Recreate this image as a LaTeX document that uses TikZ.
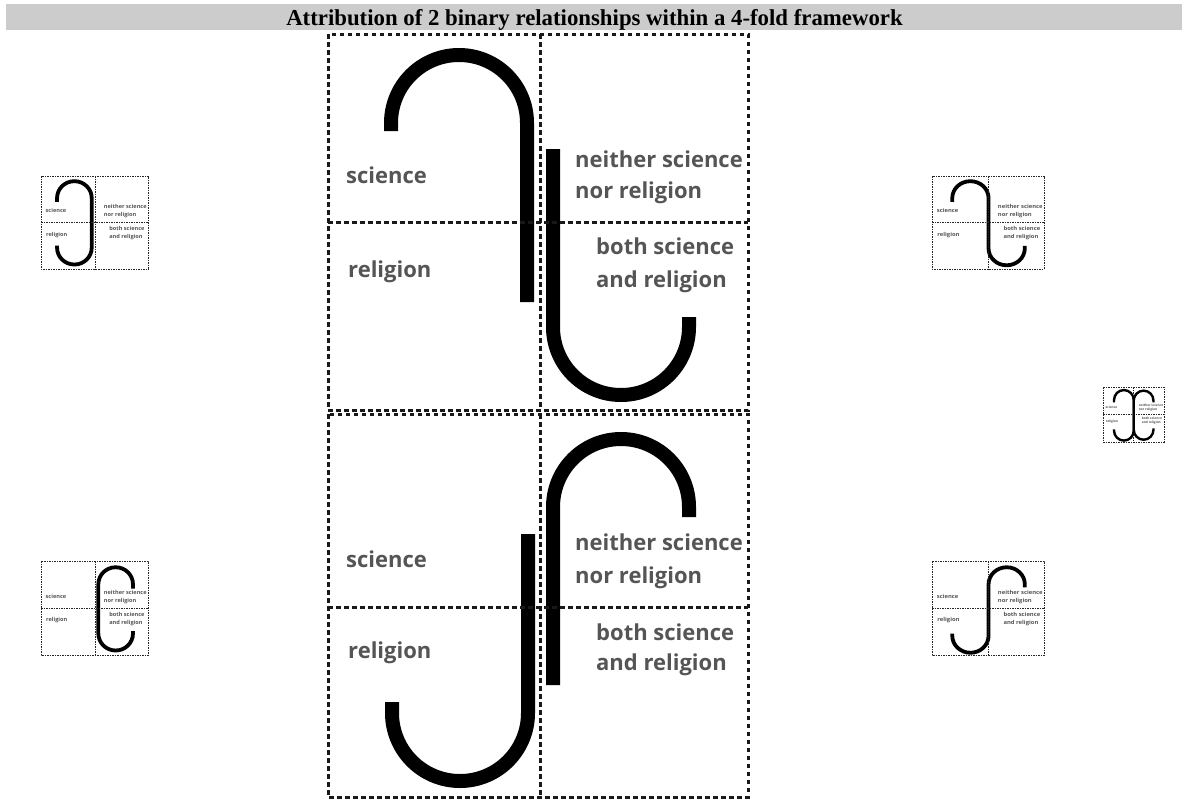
\documentclass[tikz,border=0pt]{standalone}
\usepackage{fontspec}
\setmainfont{Liberation Serif}
\newfontfamily\labelfont{Open Sans}
\definecolor{titlegray}{HTML}{CCCCCC}
\definecolor{labelgray}{HTML}{555555}
\tikzset{
 bigframe/.style={line width=3pt, dash pattern=on 4.5pt off 3.5pt, black!90},
 smallframe/.style={line width=0.8pt, dash pattern=on 1.5pt off 1pt, black!85},
 bigstroke/.style={line width=14pt, line cap=butt},
 smallstroke/.style={line width=3.8pt, line cap=butt},
 lbl/.style={anchor=base west, inner sep=0pt, font=\labelfont\bfseries\fontsize{22}{22}\selectfont, text=labelgray},
}
\newcommand\framegrid[1]{%
  \draw[#1] (0,0) rectangle (420,376);
  \draw[#1] (212,0) -- (212,376);
  \draw[#1] (0,188) -- (420,188);
}
\newcommand\framelabels[1]{%
  \node[lbl] (#1sci) at (18,149) {science};
  \node[lbl] (#1rel) at (20,243) {religion};
  \node[lbl] (#1nei) at (247,133) {neither science};
  \node[lbl] (#1nor) at (247,164) {nor religion};
  \node[lbl] (#1both) at (268,220) {both science};
  \node[lbl] (#1and) at (268,253) {and religion};
}
\newcommand\thumb[7]{%
 \begin{scope}[shift={(#2,#3)}, xscale=#4, yscale=#5, transform shape]
   \draw[smallstroke, line width=#6] #7;
   \framegrid{smallframe}
   \framelabels{#1}
 \end{scope}}
\begin{document}
\begin{tikzpicture}[x=1pt,y=-1pt]
\useasboundingbox (0,0) rectangle (1188,801);
% title
\fill[titlegray] (6,4) rectangle (1182,30);
\node[font=\bfseries\fontsize{22.8}{23}\selectfont, anchor=base, inner sep=0pt] (title) at (594.5,25) {Attribution of 2 binary relationships within a 4-fold framework};

% big upper frame
\begin{scope}[shift={(328,34)}]
  \draw[bigstroke] (63,97) -- (63,89) arc[start angle=180,end angle=360,radius=68] -- (199,268);
  \draw[bigstroke] (225,115) -- (225,293) arc[start angle=180,end angle=0,radius=68] -- (361,283);
  \framegrid{bigframe}
  \framelabels{up}
\end{scope}

% big lower frame
\begin{scope}[shift={(328,414)}]
  \draw[bigstroke] (225,271) -- (225,93) arc[start angle=180,end angle=360,radius=68] -- (361,103);
  \draw[bigstroke] (64,288) -- (64,299) arc[start angle=180,end angle=0,radius=68] -- (200,120);
  \draw[bigframe] (0,0) rectangle (420,383);
  \draw[bigframe] (212,0) -- (212,383);
  \draw[bigframe] (0,193) -- (420,193);
  \node[lbl] (losci) at (18,153) {science};
  \node[lbl] (lorel) at (20,244) {religion};
  \node[lbl] (lonei) at (247,136) {neither science};
  \node[lbl] (lonor) at (247,169) {nor religion};
  \node[lbl] (loboth) at (268,226) {both science};
  \node[lbl] (loand) at (268,256) {and religion};
\end{scope}

% thumbnails
\thumb{ta}{41}{176}{0.2548}{0.2473}{3.8pt}{(63,105) -- (63,89) arc[start angle=180,end angle=360,radius=68] -- (199,290) arc[start angle=0,end angle=180,radius=68] -- (63,282)}
\thumb{tb}{41}{561}{0.2548}{0.2500}{3.8pt}{(361,110) -- (361,93) arc[start angle=0,end angle=-180,radius=68] -- (225,290) arc[start angle=180,end angle=0,radius=68] -- (361,280)}
\thumb{tc}{932}{176}{0.2667}{0.2473}{3.8pt}{(76,105) -- (76,89) arc[start angle=180,end angle=360,radius=68] -- (212,293) arc[start angle=180,end angle=0,radius=68] -- (348,283)}
\thumb{td}{932}{561}{0.2667}{0.2500}{3.8pt}{(348,105) -- (348,93) arc[start angle=0,end angle=-180,radius=68] -- (212,299) arc[start angle=0,end angle=180,radius=68] -- (76,290)}
\thumb{te}{1103}{387}{0.145}{0.146}{2.4pt}{(76,105) -- (76,89) arc[start angle=180,end angle=360,radius=68] -- (212,299) arc[start angle=0,end angle=180,radius=68] -- (76,290)}
\begin{scope}[shift={(1103,387)}, xscale=0.145, yscale=0.146]
  \draw[smallstroke, line width=2.4pt] (348,105) -- (348,93) arc[start angle=0,end angle=-180,radius=68] -- (212,293) arc[start angle=180,end angle=0,radius=68] -- (348,283);
\end{scope}
\end{tikzpicture}
\end{document}
